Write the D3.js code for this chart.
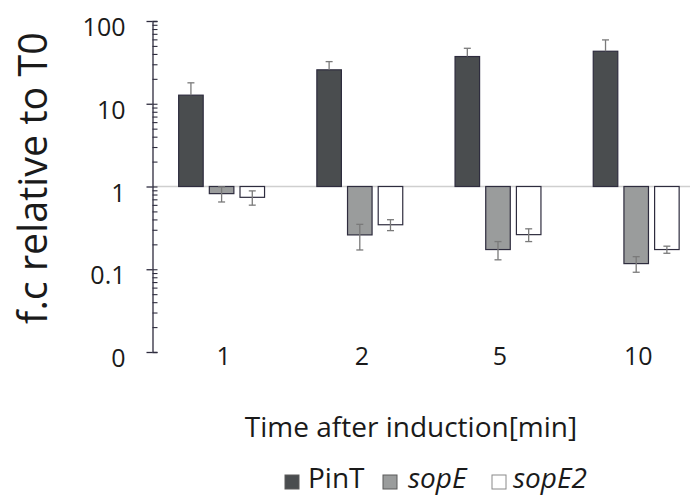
<!DOCTYPE html>
<html>
<head>
<meta charset="utf-8">
<script src="https://cdn.jsdelivr.net/npm/d3@7"></script>
<style>
  html, body { margin: 0; padding: 0; background: #fff; }
  svg { display: block; font-family: "Open Sans", Lato, sans-serif; }
</style>
</head>
<body>
<svg id="chart" width="694" height="497"></svg>
<script>
// Time points (minutes after induction)
const timePoints = ["1", "2", "5", "10"];
const seriesNames = ["PinT", "sopE", "sopE2"];

// Fold change relative to T0 and standard deviations
const pintValues  = [12.7, 25.7, 37.2, 43.1];
const pintSD      = [5.2, 6.6, 9.6, 16.0];
const sopEValues  = [0.82, 0.26, 0.173, 0.117];
const sopESD      = [0.17, 0.089, 0.043, 0.025];
const sopE2Values = [0.74, 0.345, 0.262, 0.173];
const sopE2SD     = [0.145, 0.052, 0.046, 0.017];

// Major y tick values and their labels
const yMajorTicks  = [0.01, 0.1, 1, 10, 100];
const yMajorLabels = ["0", "0.1", "1", "10", "100"];

const seriesData = [
  { name: "PinT",  values: pintValues,  sd: pintSD,  fill: "#4a4d4f", italic: false, plusOnly: true },
  { name: "sopE",  values: sopEValues,  sd: sopESD,  fill: "#9a9c9c", italic: true,  plusOnly: false },
  { name: "sopE2", values: sopE2Values, sd: sopE2SD, fill: "#ffffff", italic: true,  plusOnly: false }
];

const svg = d3.select("#chart");
const axisX = 152.5;

const y = d3.scaleLog().domain([0.01, 100]).range([352, 21]);
const x = d3.scaleBand().domain(timePoints).range([axisX, 705.3]).paddingInner(0).paddingOuter(0);
const xInner = d3.scaleBand().domain(seriesNames).range([-42.95, 42.95]).paddingInner(0.2).paddingOuter(0);

const barStroke = "#2e2c3e";
const textColor = "#1a1a1a";

// reference line at fold change = 1
svg.append("line")
  .attr("x1", axisX).attr("x2", 690)
  .attr("y1", y(1)).attr("y2", y(1))
  .attr("stroke", "#cfcfcf").attr("stroke-width", 1.3);

// bars
const groups = svg.append("g").selectAll("g")
  .data(seriesData).join("g");

groups.selectAll("rect")
  .data(s => s.values.map((v, i) => ({ s, v, sd: s.sd[i], t: timePoints[i] })))
  .join("rect")
  .attr("x", d => x(d.t) + x.bandwidth() / 2 + xInner(d.s.name))
  .attr("width", xInner.bandwidth())
  .attr("y", d => Math.min(y(d.v), y(1)))
  .attr("height", d => Math.abs(y(d.v) - y(1)))
  .attr("fill", d => d.s.fill)
  .attr("stroke", barStroke)
  .attr("stroke-width", 1.2);

// error bars
const errColor = "#7a7a7a";
const capHalf = 3.5;
const errG = svg.append("g");
seriesData.forEach(s => {
  s.values.forEach((v, i) => {
    const cx = x(timePoints[i]) + x.bandwidth() / 2 + xInner(s.name) + xInner.bandwidth() / 2;
    const hi = v + s.sd[i];
    const lo = s.plusOnly ? v : v - s.sd[i];
    errG.append("line")
      .attr("x1", cx).attr("x2", cx)
      .attr("y1", y(hi)).attr("y2", y(lo))
      .attr("stroke", errColor).attr("stroke-width", 1.3);
    errG.append("line")
      .attr("x1", cx - capHalf).attr("x2", cx + capHalf)
      .attr("y1", y(hi)).attr("y2", y(hi))
      .attr("stroke", errColor).attr("stroke-width", 1.3);
    if (!s.plusOnly) {
      errG.append("line")
        .attr("x1", cx - capHalf).attr("x2", cx + capHalf)
        .attr("y1", y(lo)).attr("y2", y(lo))
        .attr("stroke", errColor).attr("stroke-width", 1.3);
    }
  });
});

// y axis: minor + major ticks on the right side, labelled major ticks on the left
const allTicks = y.ticks().filter(t => t >= 0.01 && t <= 100);
const axisColor = "#2e2c3e";

const yRight = svg.append("g")
  .attr("transform", `translate(${axisX},0)`)
  .call(d3.axisRight(y).tickValues(allTicks).tickSize(5).tickFormat(""));
yRight.select(".domain").attr("stroke", axisColor).attr("stroke-width", 1.3);
yRight.selectAll(".tick line").attr("stroke", axisColor).attr("stroke-width", 1.1);

const yLeft = svg.append("g")
  .attr("transform", `translate(${axisX},0)`)
  .call(d3.axisLeft(y).tickValues(yMajorTicks).tickSize(6).tickPadding(21)
    .tickFormat((d, i) => yMajorLabels[i]));
yLeft.select(".domain").remove();
yLeft.selectAll(".tick line").attr("stroke", axisColor).attr("stroke-width", 1.3);
yLeft.selectAll(".tick text")
  .attr("font-family", "'Open Sans', sans-serif")
  .attr("font-size", 25)
  .attr("fill", textColor)
  .attr("dy", "0.58em");

// x tick labels
svg.append("g").selectAll("text")
  .data(timePoints).join("text")
  .attr("x", d => x(d) + x.bandwidth() / 2 + 2)
  .attr("y", 365)
  .attr("text-anchor", "middle")
  .attr("font-size", 25)
  .attr("fill", textColor)
  .text(d => d);

// axis titles
svg.append("text")
  .attr("x", 411).attr("y", 437)
  .attr("text-anchor", "middle")
  .attr("font-size", 28)
  .attr("fill", textColor)
  .text("Time after induction[min]");

svg.append("text")
  .attr("transform", "translate(47,178) rotate(-90)")
  .attr("text-anchor", "middle")
  .attr("font-size", 39.5)
  .attr("fill", textColor)
  .text("f.c relative to T0");

// legend
const legendItems = [
  { s: seriesData[0], sx: 285, tx: 308 },
  { s: seriesData[1], sx: 383, tx: 408 },
  { s: seriesData[2], sx: 492, tx: 513 }
];
const legend = svg.append("g");
legendItems.forEach(item => {
  legend.append("rect")
    .attr("x", item.sx).attr("y", 475)
    .attr("width", 14).attr("height", 14)
    .attr("fill", item.s.fill)
    .attr("stroke", item.s.name === "sopE2" ? "#8a8a8a" : "#5a5a5a")
    .attr("stroke-width", 1);
  legend.append("text")
    .attr("x", item.tx).attr("y", 488)
    .attr("font-size", 28)
    .attr("font-style", item.s.italic ? "italic" : "normal")
    .attr("fill", textColor)
    .text(item.s.name);
});
</script>
</body>
</html>
